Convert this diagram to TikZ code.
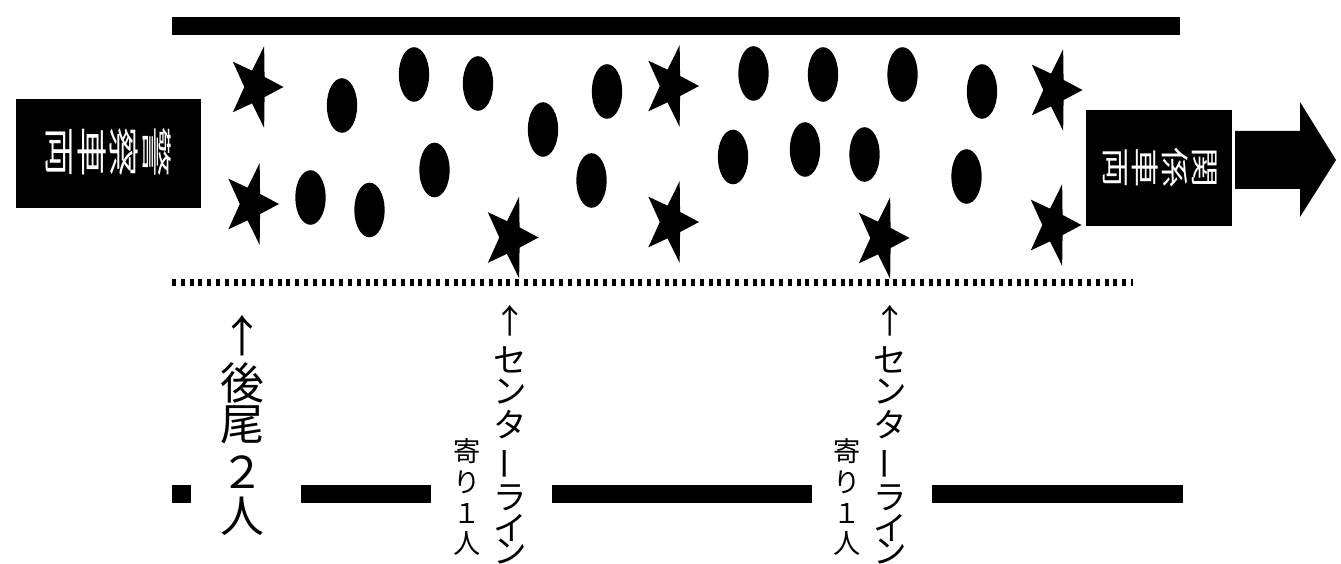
\documentclass[tikz,border=0pt]{standalone}
\usepackage{fontspec}
\newfontfamily\cjk{Noto Sans CJK JP}
\newcommand\rotch[2]{\rotatebox[origin=c]{-90}{\scalebox{1}[#1]{#2}}}
\newcommand\vbar[1]{\rotatebox[origin=c]{90}{#1}}
\begin{document}
\begin{tikzpicture}[x=0.02cm,y=-0.02cm,
  blob/.style={fill=black},
  boxnode/.style={fill=black,inner sep=0pt,draw=none},
  lbl/.style={font=\cjk\fontsize{29}{29}\selectfont,text=white,inner sep=0pt},
  rbl/.style={font=\cjk\fontsize{23}{24}\selectfont,text=white,inner sep=0pt},
  bigcol/.style={font=\cjk\fontsize{25}{25}\selectfont,inner sep=0pt},
  midcol/.style={font=\cjk\fontsize{19}{19}\selectfont,inner sep=0pt},
  smallcol/.style={font=\cjk\fontsize{15.5}{16}\selectfont,inner sep=0pt},
  pstar/.pic={\fill (28,0) -- (9.06,10.1) -- (8.65,40.9) -- (-3.46,16.36) -- (-22.65,25.3)
     -- (-11.2,0) -- (-22.65,-25.3) -- (-3.46,-16.36) -- (8.65,-40.9) -- (9.06,-10.1) -- cycle;}
]
\useasboundingbox (0,0) rectangle (1341,564);
% road edges
\fill[blob] (172,17) rectangle (1180,35);
\draw[line width=0.14cm,dash pattern=on 0.08cm off 0.096cm] (172,282) -- (1133,282);
% bottom dashes
\fill[blob] (172,485) rectangle (191,503);
\fill[blob] (301,485) rectangle (431,503);
\fill[blob] (552,485) rectangle (812,503);
\fill[blob] (932,485) rectangle (1183,503);
% stars
\foreach \sx/\sy in {255.5/87, 251/204, 510.5/237.5, 671/86, 671/222, 881.5/238, 1054.5/90, 1053.5/225}
  \pic at (\sx,\sy) {pstar};
% ellipses
\foreach \ex/\ey in {342/105.5, 414/74.5, 478/83.5, 543/129.5, 607/91.5, 310.5/197.5, 369.5/210,
   434.5/170, 591.5/180.5, 753.5/73.5, 823/74.5, 902.5/74.5, 982/91.5, 733/157, 805/149.5,
   864.5/154.5, 966.5/176.5}
  \fill[blob] (\ex,\ey) ellipse [x radius=0.304cm, y radius=0.546cm];
% left box
\node[boxnode,minimum width=3.7cm,minimum height=2.18cm] (lbox) at (108.5,153.5) {};
\node[lbl] (l1) at (59.25,152) {\rotch{0.6}{両}};
\node[lbl] (l2) at (91.75,152) {\rotch{0.6}{車}};
\node[lbl] (l3) at (124.25,152) {\rotch{0.6}{察}};
\node[lbl] (l4) at (156.75,152) {\rotch{0.6}{警}};
% right box
\node[boxnode,minimum width=2.92cm,minimum height=2.32cm] (rbox) at (1159,168) {};
\node[rbl] (r1) at (1115,167.5) {\rotch{0.7}{両}};
\node[rbl] (r2) at (1145,167.5) {\rotch{0.7}{車}};
\node[rbl] (r3) at (1175,167.5) {\rotch{0.7}{係}};
\node[rbl] (r4) at (1205,167.5) {\rotch{0.7}{関}};
% block arrow
\fill[blob] (1235,131) -- (1300,131) -- (1300,102) -- (1336,160) -- (1300,217) -- (1300,189) -- (1235,189) -- cycle;
% column: 後尾２人
\foreach \c/\cy [count=\i] in {↑/336, 後/382.5, 尾/425, ２/472.5, 人/516}
  \node[bigcol] (ka\i) at (242.5,\cy) {\c};
% columns: センターライン
\foreach \cx/\n in {510/a, 890/b}{
  \foreach \c/\cy [count=\i] in {↑/321, セ/360, ン/392, タ/425, \vbar{ー}/464, ラ/497.5, イ/528, ン/552}
    \node[midcol] (sc\n\i) at (\cx,\cy) {\c};
}
% columns: 寄り１人
\foreach \cx/\n in {467.5/a, 847.5/b}{
  \foreach \c/\cy [count=\i] in {寄/451.5, り/482.5, １/513.5, 人/543.5}
    \node[smallcol] (yo\n\i) at (\cx,\cy) {\c};
}
\end{tikzpicture}
\end{document}
